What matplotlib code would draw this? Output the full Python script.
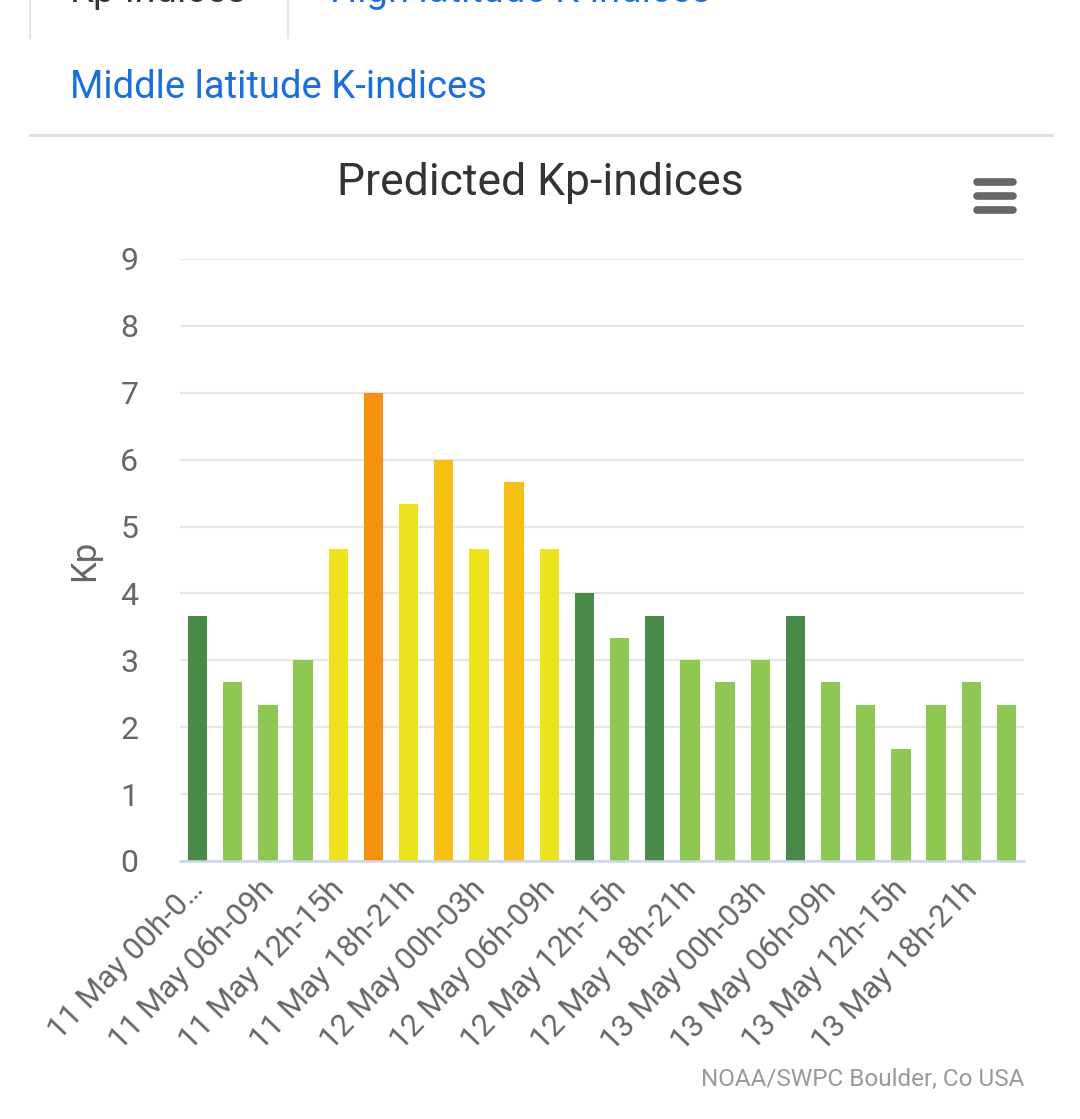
import matplotlib
matplotlib.use("Agg")
import matplotlib.pyplot as plt
import matplotlib.transforms as mtransforms
from matplotlib.lines import Line2D
import numpy as np

plt.rcParams['font.family'] = ['Roboto', 'DejaVu Sans']

# predicted Kp per 3h slot, 11-13 May
periods = ["11 May 00h-03h", "11 May 03h-06h", "11 May 06h-09h", "11 May 09h-12h",
           "11 May 12h-15h", "11 May 15h-18h", "11 May 18h-21h", "11 May 21h-00h",
           "12 May 00h-03h", "12 May 03h-06h", "12 May 06h-09h", "12 May 09h-12h",
           "12 May 12h-15h", "12 May 15h-18h", "12 May 18h-21h", "12 May 21h-00h",
           "13 May 00h-03h", "13 May 03h-06h", "13 May 06h-09h", "13 May 09h-12h",
           "13 May 12h-15h", "13 May 15h-18h", "13 May 18h-21h", "13 May 21h-00h"]
kp = [3.67, 2.67, 2.33, 3.0, 4.67, 7.0, 5.33, 6.0, 4.67, 5.67, 4.67, 4.0,
      3.33, 3.67, 3.0, 2.67, 3.0, 3.67, 2.67, 2.33, 1.67, 2.33, 2.67, 2.33]
# only every second label fits, the first one is cut by the chart
shown_labels = ["11 May 00h-0\u2026"] + periods[2::2]
yticks = list(range(0, 10))


def kp_color(v):
    if v >= 6.5:
        return "#f6900f"
    if v >= 5.5:
        return "#f6bf15"
    if v >= 4.5:
        return "#ede21e"
    if v >= 3.5:
        return "#498a48"
    return "#8ec852"


fig = plt.figure(figsize=(10.8, 11.19), dpi=100)
W, H = 1080, 1119

ax = fig.add_axes([180 / W, 1 - 861 / H, 844 / W, 602 / H])
x = np.arange(len(kp))
ax.bar(x, kp, width=0.55, color=[kp_color(v) for v in kp], zorder=3)
ax.set_xlim(-0.5, len(kp) - 0.5)
ax.set_ylim(0, 9)
ax.set_yticks(yticks)
ax.set_yticklabels([str(t) for t in yticks], fontsize=23, color="#666666")
ax.yaxis.grid(True, color="#e6e6e6", linewidth=1.6, zorder=0)
for s in ["top", "right", "left"]:
    ax.spines[s].set_visible(False)
ax.spines["bottom"].set_color("#ccd6eb")
ax.spines["bottom"].set_linewidth(1.8)
ax.spines["bottom"].set_zorder(4)
ax.tick_params(axis="y", length=0, pad=30)
ax.tick_params(axis="x", length=0, pad=10)
ax.set_xticks(x[::2])
ax.set_xticklabels(shown_labels, rotation=46, ha="right", va="top",
                   rotation_mode="anchor", fontsize=22.5, color="#666666")
shift = mtransforms.ScaledTranslation(-9 / 100, 0, fig.dpi_scale_trans)
for lab in ax.get_xticklabels():
    lab.set_transform(lab.get_transform() + shift)
ax.set_ylabel("Kp", fontsize=25, color="#666666", labelpad=14)

# title, credits
fig.text(540 / W, 1 - 183 / H, "Predicted Kp-indices", ha="center", va="center",
         fontsize=32, color="#333333")
fig.text(1024 / W, 1 - 1086 / H, "NOAA/SWPC Boulder, Co USA", ha="right",
         va="baseline", fontsize=17.5, color="#999999")

# page bits around the chart: tabs, link, divider, menu icon
fig.text(70 / W, 1 - 2 / H, "Kp-indices", ha="left", va="baseline",
         fontsize=27.5, color="#333333")
fig.text(330 / W, 1 - 2 / H, "High latitude K-indices", ha="left", va="baseline",
         fontsize=27.5, color="#1a6fdc")
fig.text(70 / W, 1 - 98 / H, "Middle latitude K-indices", ha="left", va="baseline",
         fontsize=27.5, color="#1a6fdc")
fig.add_artist(Line2D([30 / W, 30 / W], [1 - 38 / H, 1], color="#e0e0e0", lw=1.2))
fig.add_artist(Line2D([288 / W, 288 / W], [1 - 38 / H, 1], color="#e0e0e0", lw=1.2))
fig.add_artist(Line2D([30 / W, 1052 / W], [1 - 135 / H, 1 - 135 / H],
                      color="#dddddd", lw=2))
for yy in [182, 196, 210]:
    fig.add_artist(Line2D([977 / W, 1013 / W], [1 - yy / H, 1 - yy / H],
                          color="#666666", lw=5.5, solid_capstyle="round"))

fig.savefig("out.png", dpi=100, facecolor="white")
